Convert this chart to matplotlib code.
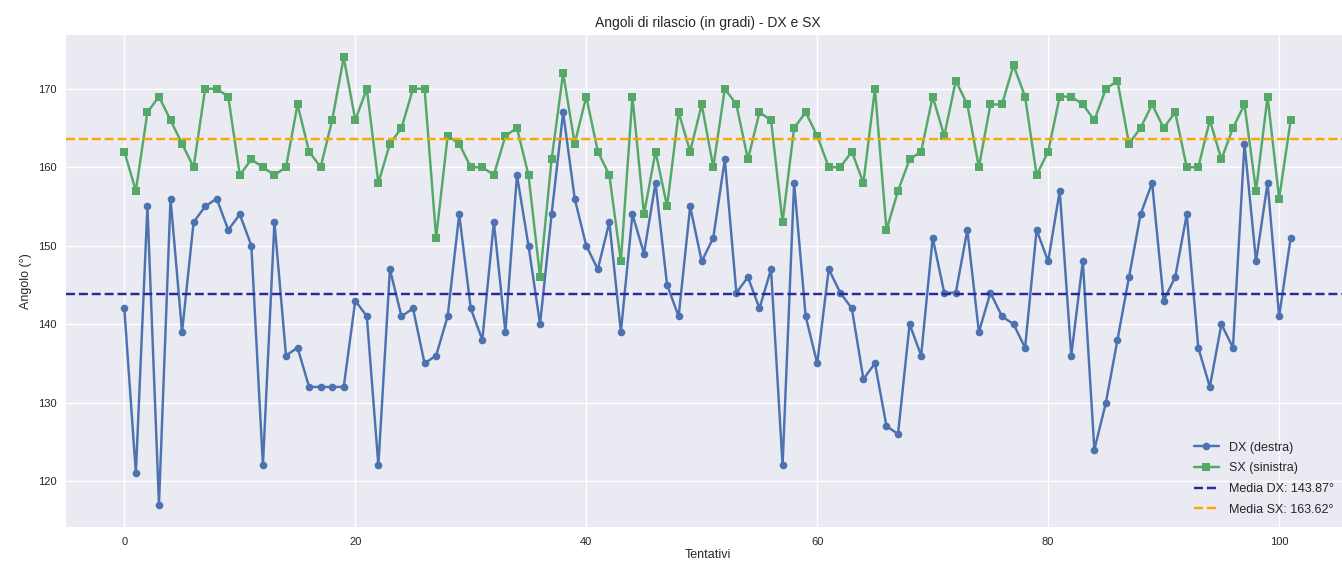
import matplotlib.pyplot as plt
import numpy as np

# angoli di rilascio
dx = [142, 121, 155, 117, 156, 139, 153, 155, 156, 152,
      154, 150, 122, 153, 136, 137, 132, 132, 132, 132,
      143, 141, 122, 147, 141, 142, 135, 136, 141, 154,
      142, 138, 153, 139, 159, 150, 140, 154, 167, 156,
      150, 147, 153, 139, 154, 149, 158, 145, 141, 155,
      148, 151, 161, 144, 146, 142, 147, 122, 158, 141,
      135, 147, 144, 142, 133, 135, 127, 126, 140, 136,
      151, 144, 144, 152, 139, 144, 141, 140, 137, 152,
      148, 157, 136, 148, 124, 130, 138, 146, 154, 158,
      143, 146, 154, 137, 132, 140, 137, 163, 148, 158,
      141, 151]
sx = [162, 157, 167, 169, 166, 163, 160, 170, 170, 169,
      159, 161, 160, 159, 160, 168, 162, 160, 166, 174,
      166, 170, 158, 163, 165, 170, 170, 151, 164, 163,
      160, 160, 159, 164, 165, 159, 146, 161, 172, 163,
      169, 162, 159, 148, 169, 154, 162, 155, 167, 162,
      168, 160, 170, 168, 161, 167, 166, 153, 165, 167,
      164, 160, 160, 162, 158, 170, 152, 157, 161, 162,
      169, 164, 171, 168, 160, 168, 168, 173, 169, 159,
      162, 169, 169, 168, 166, 170, 171, 163, 165, 168,
      165, 167, 160, 160, 166, 161, 165, 168, 157, 169,
      156, 166]

tentativi = np.arange(len(dx))
media_dx = np.mean(dx)
media_sx = np.mean(sx)

plt.style.use('seaborn-v0_8')
plt.rcParams['font.family'] = ['Liberation Sans', 'DejaVu Sans']

fig = plt.figure(figsize=(13.42, 5.67), dpi=100)
ax = fig.add_axes([66 / 1342, 40 / 567, 1283 / 1342, 492 / 567])

ax.plot(tentativi, dx, marker='o', markersize=5.5, color='#4C72B0', label='DX (destra)')
ax.plot(tentativi, sx, marker='s', markersize=5.5, color='#55A868', label='SX (sinistra)')
ax.axhline(media_dx, color='#2a2a9a', linestyle='--', label='Media DX: %.2f°' % media_dx)
ax.axhline(media_sx, color='orange', linestyle='--', label='Media SX: %.2f°' % media_sx)

ax.set_title('Angoli di rilascio (in gradi) - DX e SX', fontsize=10)
ax.set_xlabel('Tentativi', fontsize=9, labelpad=2)
ax.set_ylabel('Angolo (°)', fontsize=9)
ax.tick_params(labelsize=8)
ax.legend(loc='lower right', fontsize=9, labelspacing=0.7, bbox_to_anchor=(0.997, 0.0))

fig.savefig('out.png', dpi=100)
